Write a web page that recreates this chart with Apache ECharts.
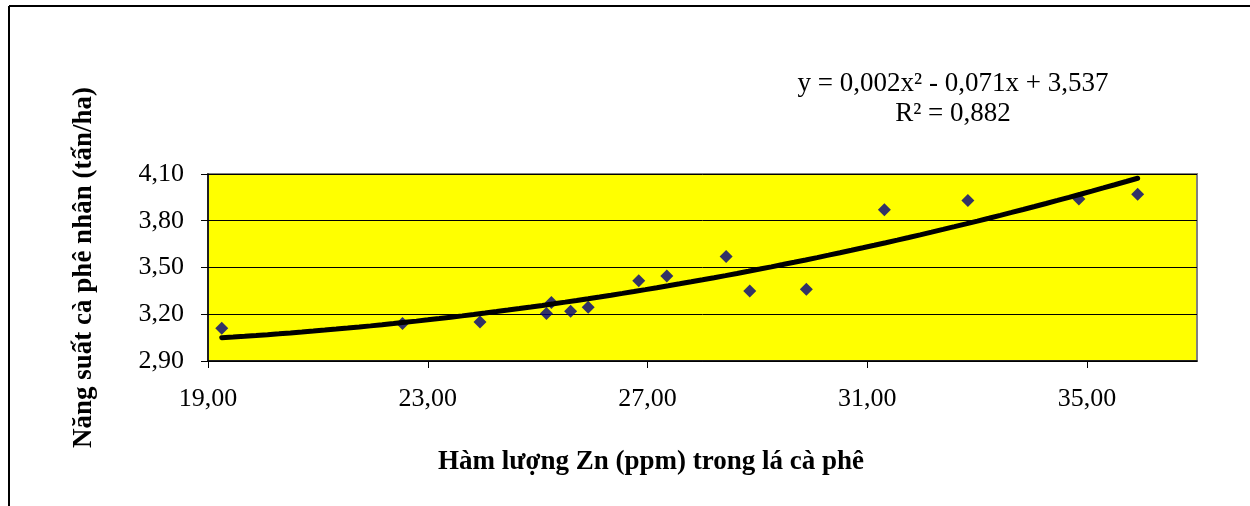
<!DOCTYPE html>
<html>
<head>
<meta charset="utf-8">
<script src="https://cdn.jsdelivr.net/npm/echarts@6/dist/echarts.min.js"></script>
<style>
    html, body { margin: 0; padding: 0; background: #fff; }
    #chartBox { width: 1250px; height: 506px; }
</style>
</head>
<body>
<div id="chartBox"></div>
<script>
// số liệu
const znValues = [19.25, 22.54, 23.95, 25.16, 25.25, 25.60, 25.92, 26.84, 27.35, 28.43, 28.86, 29.89, 31.31, 32.83, 34.85, 35.92];
const yieldValues = [3.11, 3.14, 3.15, 3.205, 3.275, 3.22, 3.245, 3.415, 3.445, 3.57, 3.35, 3.36, 3.87, 3.93, 3.94, 3.97];
const xTicks = [19, 23, 27, 31, 35];
const yTicks = [2.9, 3.2, 3.5, 3.8, 4.1];
const equationText = 'y = 0,002x² - 0,071x + 3,537\nR² = 0,882';

// hồi quy bậc 2 (bình phương tối thiểu) từ các điểm
function quadFit(xs, ys) {
    let s = [0, 0, 0, 0, 0], t = [0, 0, 0];
    for (let i = 0; i < xs.length; i++) {
        let p = 1;
        for (let k = 0; k < 5; k++) { s[k] += p; if (k < 3) t[k] += p * ys[i]; p *= xs[i]; }
    }
    let m = [[s[0], s[1], s[2], t[0]], [s[1], s[2], s[3], t[1]], [s[2], s[3], s[4], t[2]]];
    for (let c = 0; c < 3; c++) {
        for (let r = c + 1; r < 3; r++) {
            let f = m[r][c] / m[c][c];
            for (let k = c; k < 4; k++) m[r][k] -= f * m[c][k];
        }
    }
    let coef = [0, 0, 0];
    for (let r = 2; r >= 0; r--) {
        let v = m[r][3];
        for (let k = r + 1; k < 3; k++) v -= m[r][k] * coef[k];
        coef[r] = v / m[r][r];
    }
    return coef; // a0 + a1 x + a2 x^2
}

const coef = quadFit(znValues, yieldValues);
const xMin = Math.min.apply(null, znValues), xMax = Math.max.apply(null, znValues);
let trendData = [];
for (let i = 0; i <= 80; i++) {
    let x = xMin + (xMax - xMin) * i / 80;
    trendData.push([x, coef[0] + coef[1] * x + coef[2] * x * x]);
}

const fmt = function (v) { return v.toFixed(2).replace('.', ','); };
const serif = 'Liberation Serif';

let chartBox = echarts.init(document.getElementById('chartBox'));
let option = {
    animation: false,
    backgroundColor: '#fff',
    textStyle: {fontFamily: serif},
    grid: {
        left: 208, right: 53, top: 174, bottom: 145,
        show: true, backgroundColor: '#ffff00', borderColor: '#808080', borderWidth: 2
    },
    xAxis: {
        type: 'value', min: 19, max: 37,
        axisLine: {show: true, lineStyle: {color: '#000', width: 1.5}},
        axisTick: {show: true, length: 7, customValues: xTicks, lineStyle: {color: '#000'}},
        axisLabel: {
            customValues: xTicks, margin: 25, color: '#000', fontSize: 26, fontFamily: serif,
            formatter: fmt
        },
        splitLine: {show: false}
    },
    yAxis: {
        type: 'value', min: 2.9, max: 4.1,
        name: 'Năng suất cà phê nhân (tấn/ha)',
        nameLocation: 'middle', nameGap: 110, nameRotate: 90,
        nameTextStyle: {color: '#000', fontSize: 27, fontWeight: 'bold', fontFamily: serif},
        axisLine: {show: true, lineStyle: {color: '#000', width: 1.5}},
        axisTick: {show: true, length: 7, customValues: yTicks, lineStyle: {color: '#000'}},
        axisLabel: {
            customValues: yTicks, margin: 24, color: '#000', fontSize: 26, fontFamily: serif,
            formatter: fmt
        },
        splitLine: {show: true, lineStyle: {color: '#000', width: 1}}
    },
    graphic: [
        {type: 'line', shape: {x1: 9, y1: 6, x2: 1250, y2: 6}, style: {stroke: '#000', lineWidth: 2}},
        {type: 'line', shape: {x1: 9, y1: 6, x2: 9, y2: 506}, style: {stroke: '#000', lineWidth: 2}},
        {
            type: 'text', x: 651, y: 462,
            style: {
                text: 'Hàm lượng Zn (ppm) trong lá cà phê',
                font: 'bold 27px "Liberation Serif"', fill: '#000', textAlign: 'center', textVerticalAlign: 'middle'
            }
        },
        {
            type: 'text', x: 953, y: 99,
            style: {
                text: equationText,
                font: '27px "Liberation Serif"', lineHeight: 30, fill: '#000',
                textAlign: 'center', textVerticalAlign: 'middle'
            }
        }
    ],
    series: [
        {
            type: 'scatter', name: 'Năng suất',
            symbol: 'diamond', symbolSize: 13,
            itemStyle: {color: '#000080'},
            data: znValues.map(function (x, i) { return [x, yieldValues[i]]; }),
            z: 2
        },
        {
            type: 'line', name: 'Xu hướng',
            data: trendData, showSymbol: false, smooth: false,
            lineStyle: {color: '#000', width: 5, cap: 'round'},
            z: 3
        }
    ]
};
chartBox.setOption(option, true);
</script>
</body>
</html>
